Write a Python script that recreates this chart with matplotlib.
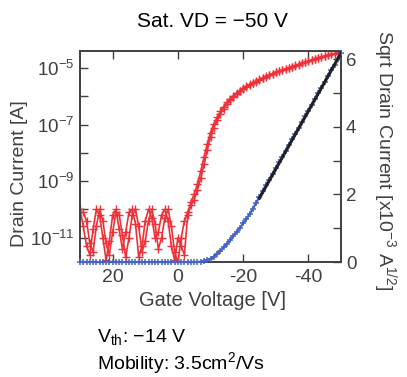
import numpy as np
import matplotlib
matplotlib.use("Agg")
import matplotlib.pyplot as plt
from matplotlib.ticker import FixedLocator, FixedFormatter

plt.rcParams['font.family'] = ['Liberation Sans', 'DejaVu Sans']
plt.rcParams['mathtext.fontset'] = 'custom'
plt.rcParams['mathtext.rm'] = 'Liberation Sans'
plt.rcParams['mathtext.it'] = 'Liberation Sans:italic'
plt.rcParams['axes.unicode_minus'] = False

# Gate voltage sweep, 1 V steps from +30 to -50 V
vg = np.arange(30, -51, -1)

# log10 of drain current [A], two sweeps
log_id_a = [
    -10.0, -10.6, -11.3, -11.6, -10.7, -10.0, -10.2, -11.0, -11.8, -11.1,
    -10.2, -10.0, -10.7, -11.4, -10.8, -10.1, -10.0, -10.5, -11.7, -11.3,
    -10.4, -10.0, -10.3, -11.0, -10.8, -10.2, -10.0, -10.4, -11.3, -11.8,
    -11.0, -11.3, -11.6, -10.2, -9.85, -9.65, -9.3, -8.9, -8.4, -7.9,
    -7.45, -7.1, -6.85, -6.62, -6.43, -6.27, -6.13, -6.01, -5.91, -5.82,
    -5.74, -5.66, -5.59, -5.53, -5.47, -5.41, -5.36, -5.30, -5.25, -5.20,
    -5.15, -5.11, -5.07, -5.03, -4.99, -4.95, -4.91, -4.87, -4.83, -4.79,
    -4.75, -4.71, -4.68, -4.64, -4.61, -4.57, -4.54, -4.51, -4.48, -4.45,
    -4.42,
]
log_id_b = [
    -10.1, -10.1, -10.4, -11.2, -11.5, -10.6, -10.0, -10.4, -11.2, -11.6,
    -10.8, -10.1, -10.2, -10.9, -11.7, -11.0, -10.2, -10.0, -10.6, -11.5,
    -11.1, -10.4, -10.0, -10.5, -11.4, -11.0, -10.3, -10.0, -10.6, -11.5,
    -11.9, -11.0, -10.4, -10.1, -9.75, -9.45, -9.1, -8.65, -8.15, -7.68,
    -7.28, -6.97, -6.74, -6.53, -6.36, -6.21, -6.08, -5.97, -5.87, -5.79,
    -5.71, -5.64, -5.57, -5.51, -5.45, -5.39, -5.34, -5.29, -5.24, -5.19,
    -5.14, -5.10, -5.06, -5.02, -4.98, -4.94, -4.90, -4.86, -4.82, -4.78,
    -4.74, -4.70, -4.67, -4.63, -4.60, -4.57, -4.54, -4.51, -4.48, -4.45,
    -4.42,
]

# sqrt of drain current [x1e-3 A^1/2]
sqrt_id = [
    0.0, 0.0, 0.0, 0.0, 0.0, 0.0, 0.0, 0.0, 0.0, 0.0,
    0.0, 0.0, 0.0, 0.0, 0.0, 0.0, 0.0, 0.0, 0.0, 0.0,
    0.0, 0.0, 0.0, 0.0, 0.0, 0.0, 0.0, 0.0, 0.0, 0.0,
    0.0, 0.0, 0.0, 0.0, 0.0, 0.0, 0.0, 0.01, 0.03, 0.06,
    0.10, 0.16, 0.24, 0.33, 0.43, 0.54, 0.65, 0.77, 0.89, 1.01,
    1.14, 1.27, 1.42, 1.58, 1.75, 1.93, 2.10, 2.27, 2.44, 2.61,
    2.78, 2.95, 3.12, 3.29, 3.46, 3.63, 3.80, 3.97, 4.14, 4.31,
    4.48, 4.65, 4.82, 4.99, 5.16, 5.33, 5.50, 5.67, 5.84, 6.01,
    6.18,
]

# linear fit used for Vth
fit_vg = [-25, -50]
fit_sqrt = [1.89, 6.18]

id_a = 10.0 ** np.array(log_id_a)
id_b = 10.0 ** np.array(log_id_b)

rojo = '#ee3038'
azul = '#4563c2'
gris = '#404040'

fig = plt.figure(figsize=(4.07, 3.77), dpi=100)
ax = fig.add_axes([0.1966, 0.305, 0.6413, 0.5597])
ax2 = ax.twinx()

ax.plot(vg, id_a, color=rojo, lw=1.2, marker='+', ms=6, mew=1.0)
ax.plot(vg, id_b, color=rojo, lw=1.2, marker='+', ms=6, mew=1.0)
ax.set_yscale('log')
ax.set_xlim(30, -50)
ax.set_ylim(10**-11.86, 10**-4.39)

ax2.plot(vg, sqrt_id, color=azul, lw=1.6, marker='+', ms=5, mew=1.1, clip_on=False, zorder=3)
ax2.plot(fit_vg, fit_sqrt, color='#222222', lw=2.2, zorder=4)
ax2.set_ylim(0, 6.24)

# ticks
ax.xaxis.set_major_locator(FixedLocator([20, 0, -20, -40]))
ax.yaxis.set_major_locator(FixedLocator([1e-5, 1e-7, 1e-9, 1e-11]))
ax.yaxis.set_major_formatter(FixedFormatter(['$10^{-5}$', '$10^{-7}$', '$10^{-9}$', '$10^{-11}$']))
ax.yaxis.set_minor_locator(FixedLocator([1e-6, 1e-8, 1e-10, 1e-12]))
ax.yaxis.set_minor_formatter(FixedFormatter([]))
ax2.yaxis.set_major_locator(FixedLocator([0, 2, 4, 6]))
ax2.yaxis.set_minor_locator(FixedLocator([1, 3, 5]))

ax.tick_params(axis='both', which='both', direction='in', length=6, width=1.0,
               colors=gris, labelsize=13.5, top=True)
ax.tick_params(axis='x', which='major', labelsize=14, pad=5)
ax.tick_params(axis='y', which='major', pad=4)
ax2.tick_params(axis='y', which='both', direction='in', length=6, width=1.0,
                colors=gris, labelsize=13.5)

for a in (ax, ax2):
    for sp in a.spines.values():
        sp.set_color(gris)
        sp.set_linewidth(1.2)

ax.set_xlabel('Gate Voltage [V]', fontsize=14.5, color=gris)
ax.xaxis.set_label_coords(0.506, -0.135)
ax.set_ylabel('Drain Current [A]', fontsize=14, color=gris)
ax.yaxis.set_label_coords(-0.2, 0.42)
ax2.set_ylabel('Sqrt Drain Current [x10$^{-3}$ A$^{1/2}$]', fontsize=14, color=gris,
               rotation=270, va='center', ha='center')
ax2.yaxis.set_label_coords(1.17, 0.48)

fig.text(0.521, 0.942, 'Sat. VD = \u221250 V', ha='center', va='center', fontsize=15,
         color='black')
fig.text(0.238, 0.092, 'V$_{\\mathrm{th}}$: \u221214 V', ha='left', va='baseline', fontsize=14,
         color='black')
fig.text(0.238, 0.022, 'Mobility: 3.5cm$^{2}$/Vs', ha='left', va='baseline', fontsize=14,
         color='black')

fig.savefig('out.png', dpi=100)
